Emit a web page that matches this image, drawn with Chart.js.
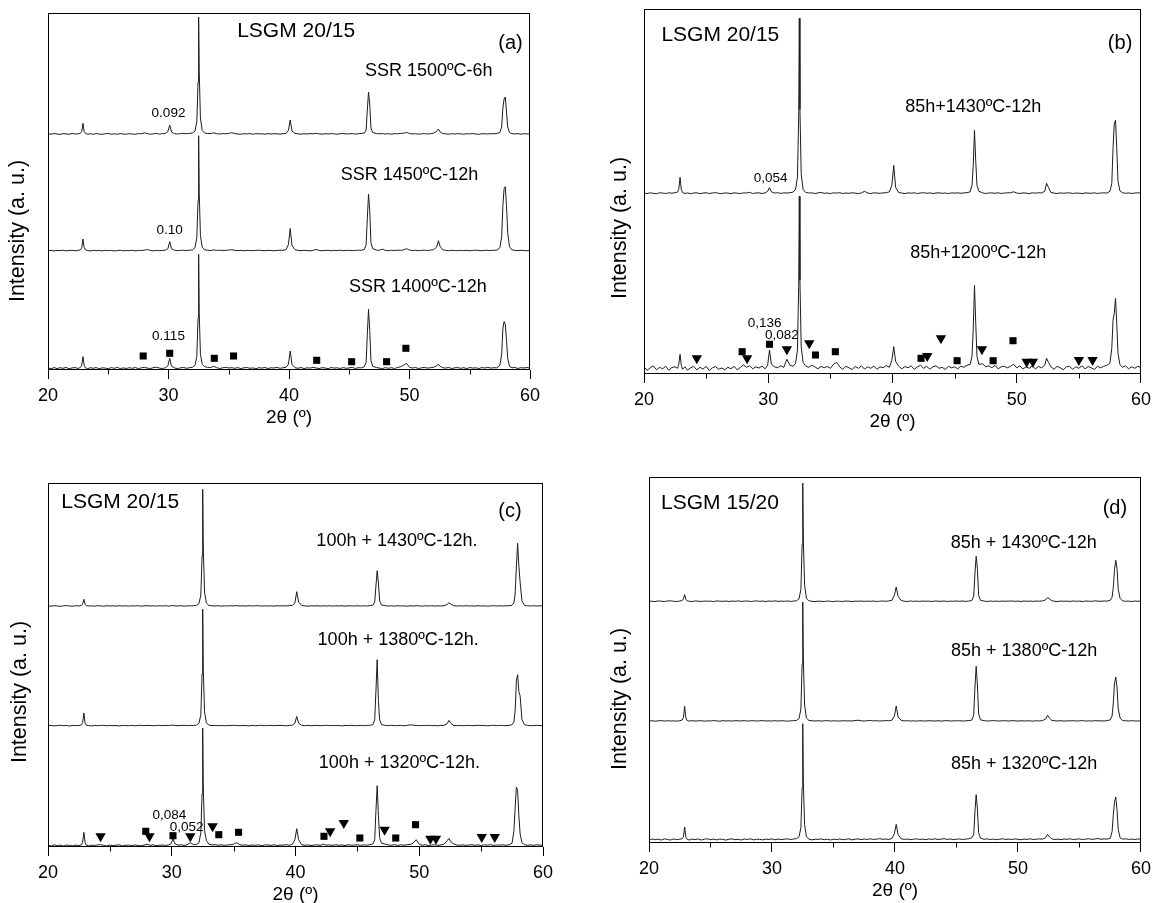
<!DOCTYPE html>
<html><head><meta charset="utf-8">
<script src="https://cdn.jsdelivr.net/npm/chart.js@4.4.0/dist/chart.umd.min.js"></script>
<style>
html,body{margin:0;padding:0;background:#fff;overflow:hidden;width:1157px;height:903px;}
canvas{position:absolute;}
</style></head><body>
<canvas id="pa"></canvas><canvas id="pb"></canvas><canvas id="pc"></canvas><canvas id="pd"></canvas>
<script>
// ---------- DATA ----------
const twoTheta = [
20,20.25,20.5,20.75,21,21.25,21.5,21.75,22,22.25,
22.5,22.7,22.8,22.9,23,23.1,23.3,23.5,23.75,24,
24.25,24.5,24.75,25,25.25,25.5,25.75,26,26.25,26.5,
26.75,27,27.25,27.5,27.75,28,28.25,28.5,28.75,29,
29.25,29.5,29.75,29.95,30.1,30.25,30.5,30.75,31,31.25,
31.5,31.75,32,32.2,32.35,32.45,32.5,32.55,32.65,32.8,
33,33.25,33.5,33.75,34,34.25,34.5,34.75,35,35.25,
35.5,35.75,36,36.25,36.5,36.75,37,37.25,37.5,37.75,
38,38.25,38.5,38.75,39,39.25,39.5,39.75,39.95,40.1,
40.25,40.5,40.75,41,41.25,41.5,41.75,42,42.25,42.5,
42.75,43,43.25,43.5,43.75,44,44.25,44.5,44.75,45,
45.25,45.5,45.75,46,46.25,46.4,46.5,46.6,46.7,46.8,
46.95,47.25,47.5,47.75,48,48.25,48.5,48.75,49,49.25,
49.5,49.75,50,50.25,50.5,50.75,51,51.25,51.5,51.75,
52,52.25,52.4,52.55,52.75,53,53.25,53.5,53.75,54,
54.25,54.5,54.75,55,55.25,55.5,55.75,56,56.25,56.5,
56.75,57,57.25,57.5,57.65,57.75,57.85,57.95,58.05,58.15,
58.3,58.5,58.75,59,59.25,59.5,59.75,60];

// panel (a)
const aSSR1500 = [
0.3,-0.2,0.5,0,-0.4,0.4,0.1,-0.3,0.5,0,
0.2,0.8,2.5,10.7,2.5,0.6,-0.2,0.3,-0.3,0.4,
0,-0.4,0.3,0.5,-0.2,0.2,-0.3,0.4,0,-0.2,
0.3,0,-0.3,0.4,0.2,1.2,0.3,-0.2,0.2,0.5,
-0.1,0.3,0.6,2.5,9,2,0.3,0,0.4,0.6,
0.3,0.6,1,3,12,52,117,62,16,3.5,
1,0.5,0.4,1.2,0.3,0,0.4,0.2,0.6,1.3,
0.4,0,-0.2,0.3,0,0.4,-0.2,0.3,0.1,0.2,
-0.2,0.4,0,0.3,0.2,-0.1,0.3,0.5,3.5,14,
3,0.5,0.2,-0.2,0.3,0,0.4,0.2,0.6,0.1,
-0.2,0.3,0,0.4,0.1,-0.2,0.3,0.5,0,0.2,
0.4,-0.1,0.3,0.5,1,4,24,42,30,6,
1.5,0.5,0.2,0.4,0,0.3,-0.2,0.4,0.2,0.5,
0.8,1.5,0.5,0,0.3,-0.2,0.2,0.4,0,0.3,
0.8,2.5,5,2,0.6,0.2,-0.2,0.3,0,0.4,
0.1,-0.2,0.3,0.1,0.4,0,-0.3,0.3,0.2,0,
0.4,0.2,0.5,1.5,7,26,35,37,22,7,
1.5,0.3,0,0.4,-0.2,0.3,0.1,0];
const aSSR1450 = [
0,0.4,-0.3,0.3,0,0.5,-0.2,0.2,0.4,-0.1,
0.3,1,3,11.7,3,0.8,0.2,-0.3,0.4,0,
0.3,-0.2,0.4,0,0.3,-0.3,0.2,0.5,-0.1,0.2,
0,0.4,-0.2,0.3,0.2,0.5,1.2,0.2,-0.2,0.4,
0,0.3,0.5,2,9,2,0.4,0.1,0.3,0.5,
0.2,0.5,0.8,3,13,50,115,58,15,3.5,
0.8,0.4,0.2,0.8,0.3,0.5,0.1,0.4,0.6,1,
0.4,0,0.3,-0.1,0.4,0.2,0,0.3,0.5,0.2,
0,0.4,0.2,-0.1,0.3,0.5,0.4,1,6,22.3,
5,1,0.3,0,0.4,0.1,-0.2,0.4,1.2,0.3,
0,0.3,0.4,-0.1,0.3,0.2,0.5,0,0.3,0.4,
0,0.3,0.5,0.4,1.2,6,32,56.7,40,8,
2,0.6,0.4,1.5,0.3,0,0.4,0.2,0.5,0.3,
0.8,2,0.6,0.2,0.4,0,0.3,0.5,0.2,0.6,
1,3.5,10,4,1,0.3,0,0.4,0.2,0,
0.4,0.1,0.3,-0.1,0.3,0.5,0.2,0,0.4,0.3,
0.2,0.5,0.4,3,14,45,62,64,45,18,
4,0.8,0.3,0,0.4,0.2,-0.1,0.3];
const aSSR1400 = [
0.5,-0.6,0.8,-0.3,0.6,0,0.9,-0.5,0.4,0.7,
-0.2,1,3,11.7,3,0.5,-0.4,0.6,0,0.8,
-0.5,0.5,0.2,-0.4,0.7,0,0.9,-0.3,0.4,-0.2,
0.6,0,0.8,-0.4,0.5,0.9,0.2,-0.3,0.7,1,
0.2,-0.3,0.6,2.5,10,2.2,0.4,-0.4,0.5,0.8,
0,0.6,1,3,12,50,114,55,14,4,
1.5,1,0.8,2,0.6,-0.2,0.5,0.9,0.3,0.6,
0,0.7,-0.3,0.5,0.8,0,0.4,-0.4,0.6,0.2,
0.8,-0.2,0.5,0.3,0.9,0,0.5,1,4,17.3,
4,0.6,0,0.8,-0.3,0.5,0.2,0.9,0.3,-0.2,
0.6,0.3,-0.4,0.8,0.2,0.5,-0.2,0.7,0,0.4,
1,-0.2,0.6,0.4,1.5,6,34,59,38,8,
2,0.8,0.2,-0.3,0.7,0,0.6,-0.2,0.8,1.5,
3,5,1,0.3,0.8,-0.2,0.5,0.9,0.2,0.6,
1,2.5,4,2,0.6,0.2,0.9,-0.3,0.5,0.7,
0,0.6,-0.3,0.8,0.2,0.5,-0.2,0.7,0.3,0.9,
0.2,0.6,0.4,3,14,40,46.7,44,28,10,
2,0.5,0.8,-0.2,0.6,0.3,0.8,0.2];
const aOffsets = [236, 119.3, 1.7];
const aSquareX = [27.9, 30.1, 33.8, 35.4, 42.3, 45.2, 48.1, 49.7];
const aSquareY = [14, 16.7, 11.7, 14, 9.7, 8.3, 8.3, 21.7];

// panel (b)
const b1430 = [
0.4,-0.3,0.5,0,-0.5,0.6,0.2,-0.2,0.5,0.1,
0.6,1.2,4,16,4,0.8,-0.2,0.4,-0.4,0.3,
0.5,-0.3,0.2,0.6,-0.2,0.3,0.7,0,-0.4,0.4,
0.2,-0.3,0.5,0.1,-0.2,0.4,0.3,1,-0.2,0.3,
0.5,-0.2,0.4,2,5.7,1.5,0.2,0.6,-0.1,0.4,
0.3,0.6,1.2,4,16,78,175,84,20,4,
1,0.3,0.5,-0.2,0.4,0.8,0,0.3,-0.3,0.5,
0.2,0.6,-0.2,0.3,0,0.5,0.2,-0.3,0.4,2,
0.3,-0.2,0.5,0.2,0,0.4,0.6,1.5,8,28,
6,0.8,0.2,-0.3,0.4,0.1,0.5,-0.2,0.3,0.6,
0,0.4,-0.2,0.3,0.5,0,0.3,-0.3,0.4,0.2,
0.5,0,0.4,0.6,1.5,8,28,63,32,8,
2,0.5,-0.2,0.3,0.4,0,0.5,-0.2,0.3,0.5,
0.6,1.5,0.3,-0.2,0.4,0.2,-0.3,0.5,0.1,0.6,
0.4,2,10,6,0.8,0.2,-0.2,0.4,0,0.3,
0.5,-0.2,0.3,0.1,-0.3,0.4,0.2,0,0.5,-0.2,
0.3,0.5,0.2,2,10,45,70,73,45,12,
2.5,0.6,0,0.4,-0.2,0.3,0.5,0];
const b1200 = [
1.5,-2,0.5,2.5,-1.5,1,-0.5,2,-2,0.8,
1.5,0,4,14,3,-1,1.5,-1.8,0.5,2,
-1.5,1,-0.8,2,-2.2,0.5,1.8,-1,0.3,-1.5,
1,-0.5,2,-1.5,0.8,3.5,1,2.5,-0.5,1.5,
0.2,2.2,-0.5,3,18.3,4,1.5,0.5,2.5,1,
9,3,2,5,18,82,172,88,22,6,
2.5,1,3,1.5,-0.5,2,0.5,1.8,0,4,
6,1.5,-1,2,0.5,-1.2,1.8,0,2.5,-0.8,
1.5,0,2.2,-1,1.5,0.5,2.8,1,8,21.7,
7,2,-0.5,1.8,0.5,2.5,-1,1.5,3,0,
2,-0.8,1.5,2.5,0,1,-1.2,2,0.5,1.5,
-0.5,2.2,1,3,4,12,40,83,45,12,
4,4.5,1.5,2.5,0.5,3,-0.5,1.5,2,0.5,
2,4,0.5,2.5,-0.8,1.5,0,2.2,-0.5,1.8,
0.5,3,10,6,1.5,-1,2,0.5,-1.5,1.5,
2,-1,1.5,0,2.5,-0.5,1.8,0.5,-1.2,2,
0.5,2,3,5,20,48,55,70,45,15,
4,1,2.5,-0.5,1.5,0,2,0.5];
const bOffsets = [180.7, 5.7];
const bSquareX = [27.9, 30.1, 33.8, 35.4, 42.3, 45.2, 48.1, 49.7];
const bSquareY = [22.3, 29.7, 19, 22.3, 15.7, 13.3, 13.3, 33.3];
const bTriangleX = [24.25, 28.3, 31.5, 33.3, 42.8, 43.9, 47.2, 50.8, 51.3, 55.0, 56.1];
const bTriangleY = [15.7, 15.7, 24.7, 30.7, 18, 35.7, 24.7, 12.3, 12.3, 14, 14];

// panel (c)
const c1430 = [
0.2,-0.2,0.3,0,-0.3,0.2,0.4,0,-0.2,0.3,
0,0.6,2,6.7,1.5,0.4,0,0.2,-0.2,0.3,
0.1,-0.2,0.3,0,0.2,-0.1,0.3,0,0.2,-0.2,
0.2,0,0.3,-0.2,0.1,0.3,0,0.2,-0.1,0.2,
0,0.3,-0.1,0.2,0.5,0.1,0,0.3,-0.2,0.2,
0.1,0.3,0.6,2.5,11,50,116.7,58,14,3,
0.6,0.2,0,0.3,-0.2,0.2,0,0.3,0.1,0.4,
0,0.2,-0.1,0.3,0,0.2,0.3,-0.1,0.2,0,
0.2,-0.1,0.3,0,0.2,0.1,0.4,0.6,3,14.3,
4,0.5,0.1,-0.2,0.2,0,0.3,-0.1,0.2,0,
0.3,-0.1,0.2,0,0.3,-0.2,0.2,0.1,0,0.3,
-0.1,0.2,0,0.3,0.8,4,20,35.3,23,5,
1,0.3,0,0.2,-0.1,0.3,0,0.2,-0.2,0.2,
0,0.3,0.1,-0.2,0.2,0,0.3,-0.1,0.2,0,
0.3,1.5,3.3,2,0.4,0,0.2,-0.1,0.3,0,
0.2,-0.1,0.3,0,0.2,-0.2,0.1,0.3,0,0.2,
0,0.3,0.2,0.8,3,12,40,62.7,40,24,
5,0.6,0.2,0,0.3,-0.1,0.2,0];
const c1380 = [
0,0.3,-0.2,0.2,0.4,0,0.2,-0.3,0.3,0.1,
0.2,0.8,3,12.7,2.5,0.5,0.1,-0.2,0.3,0,
0.2,0.4,-0.1,0.3,0,0.2,-0.2,0.3,0.1,0,
0.3,-0.1,0.2,0.4,0,0.2,0.3,-0.1,0.2,0.4,
0,0.3,0.2,0.5,0.6,0.3,0,0.2,0.4,0.1,
0.3,0.2,0.6,2.5,11,52,116.7,55,14,3,
0.5,0.2,0.3,0,0.2,-0.1,0.3,0.1,0.4,0.2,
0,0.3,0.1,-0.2,0.3,0,0.2,0.4,0,0.2,
0.3,0,0.2,0.4,0.1,-0.1,0.3,0.5,2.5,9.3,
2.5,0.4,0,0.3,-0.1,0.2,0.3,0,0.2,0.4,
0.1,0.3,0,0.2,-0.2,0.3,0.1,0.4,0,0.2,
0.3,0,0.2,0.4,1,6,35,66,24,6,
1,0.3,0.1,0.4,0,0.2,0.3,-0.1,0.3,0.8,
0.6,0.2,0,0.3,0.1,0.4,0,0.2,-0.1,0.3,
0.4,2,5.3,2.5,0.5,0.1,0.3,0,0.2,0.3,
0,0.2,0.4,0.1,0.3,-0.1,0.2,0.4,0.1,0.3,
0.2,0,0.3,1,4,15,45,51,34,30,
6,1,0.3,0,0.2,0.4,0.1,0];
const c1320 = [
0.5,-0.4,0.8,0,0.6,-0.3,0.7,0.2,-0.2,0.6,
0,1,3.5,13.3,3,0.5,-0.3,0.6,0.2,0.8,
1,0.3,-0.3,0.7,0,0.5,0.9,-0.2,0.4,0.6,
0,0.8,0.3,-0.2,0.6,1.5,0.4,0.9,0,0.5,
0.7,0.2,0.8,2,7.3,2,0.5,0.9,0.3,1,
3,1,1.2,3,13,52,117.7,58,15,5,
1.5,0.8,1,0.5,0.9,0.3,0.7,1,1.5,3,
1,0.5,0.8,0.2,0.7,0.4,0.9,0,0.6,0.8,
0.3,0.9,0.2,0.7,0.5,1,0.4,1.5,6,17,
6,1,0.4,0.8,0.2,0.6,0.9,0.3,1.5,0.5,
0.8,0.3,1,0.4,0.7,0.2,0.9,0.5,0.6,1,
0.3,0.8,0.5,1,1.8,6,35,60,30,8,
2.5,1.5,0.8,0.4,1,0.3,0.8,0.5,0.9,1.2,
2.5,6,1.5,0.5,0.9,0.2,0.7,1,0.4,0.8,
1.5,5,7.3,4,2,0.8,0.4,0.9,0.3,0.7,
1,0.4,0.8,0.2,0.9,0.5,1,0.3,0.7,0.6,
0.9,0.4,0.8,2.5,15,38,58.7,55,30,12,
3,1,0.5,0.8,0.3,0.9,0.5,0.7];
const cOffsets = [241, 121.3, 1.3];
const cSquareX = [27.9, 30.1, 33.8, 35.4, 42.3, 45.2, 48.1, 49.7];
const cSquareY = [15.7, 11.3, 12.3, 14.7, 10.7, 9, 9, 22.3];
const cTriangleX = [24.25, 28.2, 31.5, 33.3, 42.8, 43.9, 47.2, 50.9, 51.35, 55.05, 56.1];
const cTriangleY = [10.7, 10.7, 10.7, 20.7, 15.7, 24, 17.3, 8.3, 8.3, 10, 10];

// panel (d)
const d1430 = [
0.3,0,-0.3,0.4,0.1,-0.2,0.3,0.5,0,-0.2,
0.3,0.8,2.5,6.7,2,0.4,0,-0.2,0.3,0.1,
-0.2,0.3,0,0.2,-0.3,0.4,0.1,0,0.3,-0.2,
0.2,0,0.4,-0.1,0.2,0.3,-0.2,0.1,0.4,0,
0.2,-0.2,0.3,0,0.2,0.4,-0.1,0.2,0,0.3,
-0.1,0.2,0.5,2.5,12,57,118.3,61,16,3,
0.5,0,-0.3,0.2,0,-0.2,0.3,0,-0.3,0.2,
0,-0.2,0.3,0.1,-0.2,0.2,0,0.3,-0.1,0.2,
0,0.3,-0.2,0.1,0.3,0,0.4,1,6,14.3,
5,0.8,0.1,-0.2,0.3,0,0.2,-0.1,0.3,0,
0.2,-0.2,0.3,0.1,0,0.3,-0.2,0.2,0,0.3,
0,0.3,-0.1,0.2,0.8,5,28,45,32.7,6,
1,0.2,-0.2,0.3,0,0.2,-0.1,0.3,0,0.2,
0.3,0,0.2,-0.2,0.3,0,0.2,-0.1,0.3,0.1,
0.4,1.5,3.7,2.5,0.5,0,-0.2,0.3,0,0.2,
-0.1,0.3,0,0.2,-0.2,0.3,0.1,0,0.4,0.2,
0,0.3,0.2,1,4,14,32,41,33,12,
3,0.5,0,0.2,-0.2,0.3,0,0.2];
const d1380 = [
0,0.3,-0.2,0.2,0.4,-0.1,0.3,0,0.2,-0.2,
0.3,1,3.5,14.7,3,0.4,-0.1,0.3,0,0.2,
0.3,-0.2,0.2,0,0.4,0.1,-0.2,0.3,0,0.2,
-0.1,0.3,0.2,0,0.4,-0.1,0.2,0.3,0,0.2,
0.4,0,0.2,-0.1,0.3,0.2,0,0.3,0.1,-0.2,
0.2,0.3,0.6,2.5,12,57,119,61,16,3,
0.6,0.2,0,0.3,-0.1,0.2,0.4,0,0.2,0.1,
-0.1,0.3,0.1,0.2,0,0.4,0.8,0.2,0,0.3,
0.5,0.1,0.3,0,0.2,0.4,0.2,0.8,5,15,
4,0.6,0.1,0.3,0,0.2,-0.1,0.3,0.1,0,
0.3,0.1,0,0.3,-0.1,0.2,0.4,0,0.2,0.1,
0.3,0,0.2,0.4,0.9,6,34,54.7,36,7,
1.2,0.3,0,0.2,0.4,0.1,0,0.3,0.2,0,
0.3,0.2,-0.1,0.3,0,0.2,0.1,-0.1,0.3,0,
0.5,2,5.7,3,0.6,0.2,0,0.3,-0.1,0.2,
0.1,0.3,0,0.2,0.4,-0.1,0.2,0,0.3,0.1,
0.2,0,0.4,1.2,5,18,38,44,34,12,
3,0.5,0.2,0,0.3,0.1,0,0.2];
const d1320 = [
-0.5,0.8,0,0.6,-0.4,0.9,0.2,-0.3,0.7,0,
0.5,1,3,12.7,2.5,0.4,-0.3,0.6,0.1,0.8,
-0.3,0.5,0.9,0,0.6,-0.2,0.7,0.3,-0.4,0.5,
0.8,0,0.4,-0.3,0.7,0.2,0.9,-0.2,0.5,0.3,
-0.2,0.6,0.2,0.8,0.4,-0.1,0.7,0,0.5,0.9,
0.2,0.6,1.2,3,12,52,116,57,15,3,
0.6,-0.2,0.5,0.3,0.8,0,0.6,-0.3,0.5,0.2,
0.7,0,0.4,0.9,-0.2,0.5,0.8,0.1,0.6,0.3,
0.9,0.2,0.6,1,0.4,0.7,0.3,1.2,6,15.3,
5,1,0.3,0.7,0,0.5,0.9,0.2,0.6,0,
0.8,0.3,0.9,0.2,0.6,1,0.3,0.7,0.1,0.5,
0.8,0.2,0.6,0.9,2,5,28,45,31,7,
1.5,0.4,0.8,0.2,0.6,0,0.5,0.9,0.3,0.6,
0.2,0.8,0.4,0,0.6,0.3,0.9,0.2,0.5,0.8,
0.6,2,5.3,3,0.8,0.2,0.6,0,0.7,0.4,
0.9,0.2,0.5,0.8,0.1,0.6,1,0.3,0.7,1.2,
0.4,0.8,0.6,1.5,8,25,38,42.7,30,10,
2,0.5,0.9,0.3,0.6,0.2,0.8,0.3];
const dOffsets = [241.7, 122, 3.3];

const xTickLabels = [20, 30, 40, 50, 60];
const xMinorTicks = [25, 35, 45, 55];

// ---------- DRAWING ----------
const FONT = "'Liberation Sans', Arial, Helvetica, sans-serif";
const LINE = '#1c1c1c';

function curveSet(vals, off) {
  const n = Math.min(vals.length, twoTheta.length);
  const pts = [];
  for (let i = 0; i < n; i++) pts.push({x: twoTheta[i], y: vals[i] + off});
  return {type: 'line', data: pts, borderColor: LINE, borderWidth: 1, pointRadius: 0, fill: false, tension: 0, order: 2};
}
function markerSet(xs, ys, style) {
  return {type: 'scatter', data: xs.map((x, i) => ({x, y: ys[i]})), showLine: false,
    pointStyle: style, rotation: style === 'triangle' ? 180 : 0,
    pointRadius: style === 'triangle' ? 6 : 5, backgroundColor: '#000', borderColor: '#000', borderWidth: 0, order: 1};
}

const framePlugin = {
  id: 'frame',
  afterDraw(chart) {
    const {ctx, chartArea: ca, scales: {x, y}} = chart;
    const po = chart.options.plugins.frame;
    const texts = po.texts || [];
    ctx.save();
    ctx.strokeStyle = '#000'; ctx.lineWidth = 1;
    const L = Math.round(ca.left) + 0.5, T = Math.round(ca.top) + 0.5, R = Math.round(ca.right) - 0.5, B = Math.round(ca.bottom) - 0.5;
    ctx.strokeRect(L, T, R - L, B - T);
    ctx.beginPath();
    for (const v of xMinorTicks) {
      const px = Math.round(x.getPixelForValue(v)) + 0.5;
      ctx.moveTo(px, B); ctx.lineTo(px, B + 5);
    }
    ctx.stroke();
    ctx.fillStyle = '#000';
    ctx.textBaseline = 'middle';
    for (const t of texts) {
      ctx.font = t.size + 'px ' + FONT;
      ctx.textAlign = t.align;
      ctx.fillText(t.text, x.getPixelForValue(t.x), y.getPixelForValue(t.y));
    }
    // y-axis title
    const yt = po.yTitle;
    ctx.save();
    ctx.translate(yt.px, y.getPixelForValue(yt.y));
    ctx.rotate(-Math.PI / 2);
    ctx.font = '21.5px ' + FONT;
    ctx.textAlign = 'center';
    ctx.fillText('Intensity (a. u.)', 0, 0);
    ctx.restore();
    ctx.restore();
  }
};

function makePanel(id, g, datasets, texts, yTitle) {
  const cv = document.getElementById(id);
  const w = g.width, h = g.plotBottom + 60 - g.top;
  cv.width = w; cv.height = h;
  cv.style.left = g.left + 'px'; cv.style.top = g.top + 'px';
  cv.style.width = w + 'px'; cv.style.height = h + 'px';
  new Chart(cv, {
    type: 'line',
    data: {datasets},
    options: {
      responsive: false, animation: false, devicePixelRatio: 1,
      layout: {padding: {top: g.plotTop - g.top, right: g.left + w - g.plotRight, left: 0, bottom: 0}},
      plugins: {legend: {display: false}, tooltip: {enabled: false}, frame: {texts, yTitle}},
      scales: {
        x: {
          type: 'linear', min: 20, max: 60, position: 'bottom',
          afterFit(s) { s.height = 60; },
          afterBuildTicks(s) { s.ticks = xTickLabels.map(v => ({value: v})); },
          ticks: {font: {family: FONT, size: 18}, color: '#000', padding: 6, maxRotation: 0, autoSkip: false},
          grid: {display: true, drawOnChartArea: false, drawTicks: true, tickLength: 9, tickColor: '#000', color: '#000', lineWidth: 1},
          border: {display: false},
          title: {display: true, text: '2θ (º)', font: {family: FONT, size: 19}, color: '#000', padding: {top: 0, bottom: 1}}
        },
        y: {
          min: 0, max: g.plotBottom - g.plotTop,
          afterFit(s) { s.width = g.plotLeft - g.left; },
          ticks: {display: false}, grid: {display: false, drawTicks: false}, border: {display: false},
          title: {display: false}
        }
      }
    },
    plugins: [framePlugin]
  });
}

makePanel('pa', {left: 0, top: 0, width: 570, plotLeft: 48, plotRight: 530, plotTop: 13, plotBottom: 370}, [
  curveSet(aSSR1500, aOffsets[0]), curveSet(aSSR1450, aOffsets[1]), curveSet(aSSR1400, aOffsets[2]),
  markerSet(aSquareX, aSquareY, 'rect')
], [
  {text: 'LSGM 20/15', x: 35.7, y: 338.3, size: 21, align: 'left'},
  {text: '(a)', x: 59.4, y: 326.7, size: 20, align: 'right'},
  {text: 'SSR 1500ºC-6h', x: 51.6, y: 299, size: 18, align: 'center'},
  {text: 'SSR 1450ºC-12h', x: 50.0, y: 195, size: 18, align: 'center'},
  {text: 'SSR 1400ºC-12h', x: 50.7, y: 82.7, size: 18, align: 'center'},
  {text: '0.092', x: 30.0, y: 256.7, size: 13.5, align: 'center'},
  {text: '0.10', x: 30.1, y: 139.3, size: 13.5, align: 'center'},
  {text: '0.115', x: 30.0, y: 33.3, size: 13.5, align: 'center'}
], {px: 18.5, y: 139});

makePanel('pb', {left: 580, top: 0, width: 577, plotLeft: 644, plotRight: 1141, plotTop: 9, plotBottom: 374}, [
  curveSet(b1430, bOffsets[0]), curveSet(b1200, bOffsets[1]),
  markerSet(bSquareX, bSquareY, 'rect'), markerSet(bTriangleX, bTriangleY, 'triangle')
], [
  {text: 'LSGM 20/15', x: 21.4, y: 339, size: 21, align: 'left'},
  {text: '(b)', x: 59.3, y: 330.7, size: 20, align: 'right'},
  {text: '85h+1430ºC-12h', x: 46.5, y: 266.7, size: 18, align: 'center'},
  {text: '85h+1200ºC-12h', x: 46.9, y: 120.7, size: 18, align: 'center'},
  {text: '0,054', x: 30.2, y: 195.7, size: 13.5, align: 'center'},
  {text: '0,136', x: 29.7, y: 50.7, size: 13.5, align: 'center'},
  {text: '0,082', x: 31.1, y: 39, size: 13.5, align: 'center'}
], {px: 40.5, y: 146});

makePanel('pc', {left: 0, top: 450, width: 570, plotLeft: 48, plotRight: 543, plotTop: 483, plotBottom: 847}, [
  curveSet(c1430, cOffsets[0]), curveSet(c1380, cOffsets[1]), curveSet(c1320, cOffsets[2]),
  markerSet(cSquareX, cSquareY, 'rect'), markerSet(cTriangleX, cTriangleY, 'triangle')
], [
  {text: 'LSGM 20/15', x: 21.07, y: 344.7, size: 21, align: 'left'},
  {text: '(c)', x: 58.27, y: 336, size: 20, align: 'right'},
  {text: '100h + 1430ºC-12h.', x: 48.2, y: 305.7, size: 18, align: 'center'},
  {text: '100h + 1380ºC-12h.', x: 48.3, y: 207.3, size: 18, align: 'center'},
  {text: '100h + 1320ºC-12h.', x: 48.4, y: 84, size: 18, align: 'center'},
  {text: '0,084', x: 29.8, y: 31.3, size: 13.5, align: 'center'},
  {text: '0,052', x: 31.2, y: 20, size: 13.5, align: 'center'}
], {px: 20.5, y: 155});

makePanel('pd', {left: 580, top: 450, width: 577, plotLeft: 649, plotRight: 1145, plotTop: 477, plotBottom: 843}, [
  curveSet(d1430, dOffsets[0]), curveSet(d1380, dOffsets[1]), curveSet(d1320, dOffsets[2])
], [
  {text: 'LSGM 15/20', x: 20.98, y: 339.3, size: 21, align: 'left'},
  {text: '(d)', x: 58.87, y: 335, size: 20, align: 'right'},
  {text: '85h + 1430ºC-12h', x: 50.47, y: 300, size: 18, align: 'center'},
  {text: '85h + 1380ºC-12h', x: 50.5, y: 191.7, size: 18, align: 'center'},
  {text: '85h + 1320ºC-12h', x: 50.5, y: 79.3, size: 18, align: 'center'}
], {px: 40.5, y: 144});
</script>
</body></html>
